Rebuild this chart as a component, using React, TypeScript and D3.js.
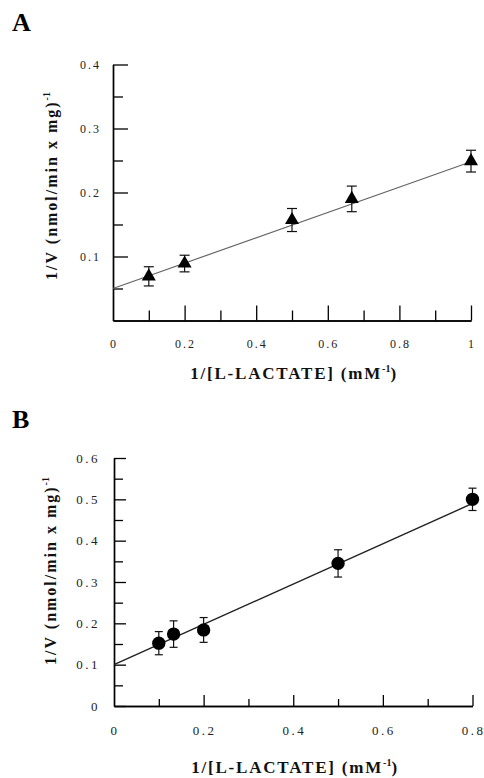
import React, { useEffect, useRef } from 'react';
import * as d3 from 'd3';

// panel A : triangles
const aX = [0.1, 0.2, 0.5, 0.667, 1.0];
const aY = [0.069, 0.089, 0.157, 0.19, 0.249];
const aErr = [0.015, 0.013, 0.018, 0.02, 0.017];
const aFit = [0.05, 0.198]; // intercept, slope
const aXTicks = [0, 0.2, 0.4, 0.6, 0.8, 1];
const aXLabels = ['0', '0.2', '0.4', '0.6', '0.8', '1'];
const aYTicks = [0.1, 0.2, 0.3, 0.4];
const aYLabels = ['0.1', '0.2', '0.3', '0.4'];

// panel B : circles
const bX = [0.1, 0.133, 0.2, 0.5, 0.8];
const bY = [0.152, 0.174, 0.184, 0.345, 0.5];
const bErr = [0.028, 0.032, 0.03, 0.033, 0.027];
const bFit = [0.1, 0.4875];
const bXTicks = [0, 0.2, 0.4, 0.6, 0.8];
const bXLabels = ['0', '0.2', '0.4', '0.6', '0.8'];
const bYTicks = [0, 0.1, 0.2, 0.3, 0.4, 0.5, 0.6];
const bYLabels = ['0', '0.1', '0.2', '0.3', '0.4', '0.5', '0.6'];

const FONT = "'Liberation Serif', 'Times New Roman', serif";

function drawPanel(svg: any, cfg: any) {
  const x = d3.scaleLinear().domain([0, cfg.xMax]).range(cfg.xRange);
  const y = d3.scaleLinear().domain([0, cfg.yMax]).range(cfg.yRange);
  const g = svg.append('g');

  // panel letter
  g.append('text')
    .attr('x', 12).attr('y', cfg.letterY)
    .style('font-family', FONT).style('font-weight', 'bold').style('font-size', '26px')
    .text(cfg.letter);

  // minor ticks
  const xMinor = d3.range(cfg.xStep / 2, cfg.xMax, cfg.xStep);
  const yMinor = d3.range(cfg.yMinorStart, cfg.yMax, cfg.yStep);

  const yAxisMinor = d3.axisLeft(y).tickValues(yMinor).tickSize(-cfg.yMinorLen).tickSizeOuter(0).tickFormat(() => '');
  const yAxis = d3.axisLeft(y).tickValues(cfg.yTicks).tickSize(-cfg.yMajorLen).tickSizeOuter(0).tickPadding(cfg.yPad)
    .tickFormat((d: any, i: number) => cfg.yLabels[i]);
  const xAxisMinor = d3.axisBottom(x).tickValues(xMinor).tickSize(-cfg.xMinorLen).tickSizeOuter(0).tickFormat(() => '');
  const xAxis = d3.axisBottom(x).tickValues(cfg.xTicks.filter((v: number) => v > 0)).tickSize(-cfg.xMajorLen).tickSizeOuter(0)
    .tickFormat(() => '');

  g.append('g').attr('transform', `translate(${cfg.xRange[0]},0)`).call(yAxisMinor);
  g.append('g').attr('transform', `translate(${cfg.xRange[0]},0)`).call(yAxis);
  g.append('g').attr('transform', `translate(0,${cfg.yRange[0]})`).call(xAxisMinor);
  g.append('g').attr('transform', `translate(0,${cfg.yRange[0]})`).call(xAxis);

  g.selectAll('.domain').attr('stroke', '#000').attr('stroke-width', 1.4);
  g.selectAll('.tick line').attr('stroke', '#000').attr('stroke-width', 1.3);
  g.selectAll('.tick text').style('font-family', FONT).style('font-size', cfg.tickFont)
    .style('letter-spacing', cfg.tickLs).attr('fill', '#222');

  // x tick labels
  g.selectAll('.xlab').data(cfg.xTicks).enter().append('text')
    .attr('x', (d: number) => x(d) + 1).attr('y', cfg.yRange[0] + cfg.xLabelDy)
    .attr('text-anchor', 'middle')
    .style('font-family', FONT).style('font-size', cfg.tickFont).style('letter-spacing', cfg.tickLs)
    .attr('fill', '#222')
    .text((d: number, i: number) => cfg.xLabels[i]);

  // fit line
  g.append('line')
    .attr('x1', x(0)).attr('y1', y(cfg.fit[0]))
    .attr('x2', x(cfg.xMax)).attr('y2', y(cfg.fit[0] + cfg.fit[1] * cfg.xMax))
    .attr('stroke', cfg.lineColor).attr('stroke-width', cfg.lineWidth);

  // error bars
  const pts = cfg.xs.map((v: number, i: number) => ({ x: v, y: cfg.ys[i], e: cfg.errs[i] }));
  const eb = g.selectAll('.eb').data(pts).enter().append('g').attr('stroke', '#111').attr('stroke-width', 1.2);
  eb.append('line')
    .attr('x1', (d: any) => x(d.x)).attr('x2', (d: any) => x(d.x))
    .attr('y1', (d: any) => y(d.y - d.e)).attr('y2', (d: any) => y(d.y + d.e));
  [1, -1].forEach((s) => {
    eb.append('line')
      .attr('x1', (d: any) => x(d.x) - cfg.cap).attr('x2', (d: any) => x(d.x) + cfg.cap)
      .attr('y1', (d: any) => y(d.y + s * d.e)).attr('y2', (d: any) => y(d.y + s * d.e));
  });

  // markers
  g.selectAll('.pt').data(pts).enter().append('path')
    .attr('transform', (d: any) => `translate(${x(d.x)},${y(d.y)})`)
    .attr('d', d3.symbol().type(cfg.symbol).size(cfg.symbolSize)())
    .attr('fill', '#000');

  // axis titles
  const xt = g.append('text')
    .attr('x', cfg.xTitleX).attr('y', cfg.xTitleY).attr('text-anchor', 'middle')
    .style('font-family', FONT).style('font-weight', 'bold').style('font-size', '17px')
    .style('letter-spacing', '1.8px').attr('fill', '#111');
  xt.append('tspan').text('1/[L-LACTATE] (mM');
  xt.append('tspan').attr('dy', -7).style('font-size', '10px').style('letter-spacing', '0px').text('-1');
  xt.append('tspan').attr('dy', 7).text(')');

  const yt = g.append('text')
    .attr('transform', `translate(${cfg.yTitleX},${cfg.yTitleY}) rotate(-90)`).attr('text-anchor', 'middle')
    .style('font-family', FONT).style('font-weight', 'bold').style('font-size', '16px')
    .style('letter-spacing', '2px').attr('fill', '#111');
  yt.append('tspan').text('1/V (nmol/min x mg)');
  yt.append('tspan').attr('dy', -7).style('font-size', '10px').style('letter-spacing', '0px').text('-1');
}

export default function App() {
  const ref = useRef<SVGSVGElement>(null);

  useEffect(() => {
    const svg = d3.select(ref.current);
    svg.selectAll('*').remove();

    drawPanel(svg, {
      letter: 'A', letterY: 31,
      xMax: 1, yMax: 0.4, xRange: [113, 471], yRange: [320.5, 64.5],
      xStep: 0.2, yStep: 0.1, yMinorStart: 0.05,
      xTicks: aXTicks, xLabels: aXLabels, yTicks: aYTicks, yLabels: aYLabels,
      xMajorLen: 15, xMinorLen: 10, yMajorLen: 15, yMinorLen: 10, xLabelDy: 27, yPad: 12,
      tickFont: '12px', tickLs: '2px',
      xs: aX, ys: aY, errs: aErr, fit: aFit,
      lineColor: '#666', lineWidth: 1.2, cap: 5,
      symbol: d3.symbolTriangle, symbolSize: 85,
      xTitleX: 294, xTitleY: 379, yTitleX: 57, yTitleY: 186,
    });

    drawPanel(svg, {
      letter: 'B', letterY: 428,
      xMax: 0.8, yMax: 0.6, xRange: [114, 472.5], yRange: [706, 458],
      xStep: 0.2, yStep: 0.1, yMinorStart: 0.05,
      xTicks: bXTicks, xLabels: bXLabels, yTicks: bYTicks, yLabels: bYLabels,
      xMajorLen: 11, xMinorLen: 7, yMajorLen: 12, yMinorLen: 9, xLabelDy: 29, yPad: 14,
      tickFont: '13px', tickLs: '2.5px',
      xs: bX, ys: bY, errs: bErr, fit: bFit,
      lineColor: '#222', lineWidth: 1.4, cap: 4,
      symbol: d3.symbolCircle, symbolSize: 140,
      xTitleX: 295, xTitleY: 773, yTitleX: 56, yTitleY: 571,
    });
  }, []);

  return (
    <svg ref={ref} width={484} height={778}
      style={{ position: 'absolute', left: 0, top: 0, background: '#fff' }} />
  );
}
